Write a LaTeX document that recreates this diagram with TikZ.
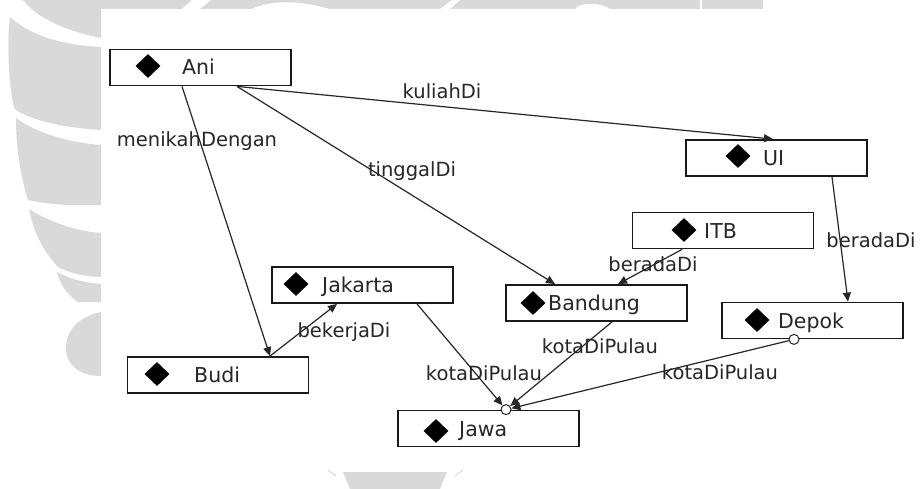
\documentclass[tikz,border=0pt]{standalone}
\usepackage{fontspec}
\setmainfont{DejaVu Sans}
\usetikzlibrary{arrows.meta,shapes.geometric}
\definecolor{wm}{RGB}{217,217,217}
\tikzset{
  nodebox/.style={draw=black!90, line width=1.8pt, minimum width=181pt, minimum height=36pt, inner sep=0pt, fill=white},
  diamark/.style={diamond, fill=black, draw=none, minimum width=25pt, minimum height=24pt, inner sep=0pt},
  nametxt/.style={anchor=base west, inner sep=0pt, font=\fontsize{20.5}{24}\selectfont, text=black!85},
  lbltxt/.style={inner sep=0pt, font=\fontsize{19.5}{22}\selectfont, text=black!85},
  conn/.style={draw=black!85, line width=1.2pt, -{Triangle[length=9pt,width=8pt]}},
  endcirc/.style={circle, draw=black!85, line width=1pt, fill=white, minimum size=10pt, inner sep=0pt},
}
\begin{document}
\begin{tikzpicture}[x=1pt,y=-1pt]
\useasboundingbox (0,0) rectangle (920,489);
% watermark
\fill[white] (0,0) rectangle (920,489);
\fill[wm] (20,0) -- (763,0) -- (763,9) -- (101,9) -- cycle;
\fill[white] (182,9) -- (192,0) -- (211,0) -- (200,9) -- cycle;
\fill[white] (252,9) .. controls (270,0) and (300,0) .. (329,9) -- cycle;
\fill[white] (440,9) -- (452,0) -- (460,0) -- (450,9) -- cycle;
\fill[white] (575,9) .. controls (580,2) and (600,2) .. (610,9) -- cycle;
\fill[white] (700,9) -- (700,0) -- (702,0) -- (702,9) -- cycle;
\fill[wm] (22,0) -- (101,0) -- (101,38) .. controls (60,30) and (35,15) .. (25,2) -- cycle;
\fill[wm] (10,17) .. controls (30,35) and (60,45) .. (101,47) -- (101,130)
  .. controls (50,127) and (20,115) .. (14,108) .. controls (8,80) and (7,40) .. cycle;
\fill[wm] (16,118) .. controls (35,132) and (65,142) .. (101,145) -- (101,205)
  .. controls (70,206) and (45,204) .. (28,200) .. controls (20,175) and (16,145) .. cycle;
\fill[wm] (29,209) .. controls (50,222) and (75,231) .. (101,233) -- (101,277)
  .. controls (85,277) and (70,273) .. (58,267) .. controls (42,250) and (33,230) .. cycle;
\fill[wm] (57,272) .. controls (70,279) and (85,283) .. (101,284) -- (101,302)
  -- (78,302) .. controls (68,295) and (60,285) .. cycle;
\fill[wm] (101,312) .. controls (80,316) and (66,330) .. (66,348)
  .. controls (66,365) and (80,376) .. (101,376) -- cycle;
\fill[wm] (343,472) -- (447,472) -- (440,489) -- (350,489) -- cycle;
\draw[wm, line width=1pt] (328,470) -- (336,476);
\draw[wm, line width=1pt] (463,470) -- (455,476);
% boxes
\node[nodebox] (ani) at (200.5,67.5) {};
\node[nodebox] (ui) at (776.5,158) {};
\node[nodebox] (itb) at (723,230.5) {};
\node[nodebox] (jak) at (362.5,285) {};
\node[nodebox] (ban) at (596.5,303) {};
\node[nodebox] (dep) at (812.5,320.5) {};
\node[nodebox] (budi) at (218,375) {};
\node[nodebox] (jawa) at (488.5,428.5) {};
% diamonds
\node[diamark] (aniD) at (148,66) {};
\node[diamark] (uiD) at (738,156) {};
\node[diamark] (itbD) at (684,230) {};
\node[diamark] (jakD) at (296,284) {};
\node[diamark] (banD) at (533,303) {};
\node[diamark] (depD) at (757,320) {};
\node[diamark] (budiD) at (157,374) {};
\node[diamark] (jawaD) at (436,431) {};
% names
\node[nametxt] (aniT) at (182,75) {Ani};
\node[nametxt] (uiT) at (763,165.5) {UI};
\node[nametxt] (itbT) at (704,238) {ITB};
\node[nametxt] (jakT) at (322,292.5) {Jakarta};
\node[nametxt] (banT) at (548,310.5) {Bandung};
\node[nametxt] (depT) at (778,328) {Depok};
\node[nametxt] (budiT) at (194,382.5) {Budi};
\node[nametxt] (jawaT) at (459,436) {Jawa};
% circles
\node[endcirc] (jc) at ([xshift=17.5pt]jawa.north) {};
\node[endcirc] (dc) at ([xshift=-18.5pt]dep.south) {};
% edges
\draw[conn] ([xshift=-18.5pt]ani.south) -- ([xshift=52pt]budi.north);
\draw[conn] ([xshift=52pt]budi.north) -- ([xshift=-25.5pt]jak.south);
\draw[conn] ([xshift=36.5pt]ani.south) -- ([xshift=-3.5pt]ui.north);
\draw[conn] ([xshift=36.5pt]ani.south) -- ([xshift=-41.5pt]ban.north);
\draw[conn] ([xshift=-41pt]itb.south) -- ([xshift=21.5pt]ban.north);
\draw[conn] ([xshift=55.5pt]ui.south) -- ([xshift=35.5pt]dep.north);
\draw[conn] ([xshift=54.5pt]jak.south) -- (jc);
\draw[conn] ([xshift=15.5pt]ban.south) -- (jc);
\draw[conn] (dc) -- (jc);
% labels
\node[lbltxt] (l1) at (197,141) {menikahDengan};
\node[lbltxt] (l2) at (442,91) {kuliahDi};
\node[lbltxt] (l3) at (412,171) {tinggalDi};
\node[lbltxt] (l4) at (653,264) {beradaDi};
\node[lbltxt] (l5) at (871,240) {beradaDi};
\node[lbltxt] (l6) at (344,332) {bekerjaDi};
\node[lbltxt] (l7) at (484,373) {kotaDiPulau};
\node[lbltxt] (l8) at (600,346) {kotaDiPulau};
\node[lbltxt] (l9) at (720,372) {kotaDiPulau};
\end{tikzpicture}
\end{document}
